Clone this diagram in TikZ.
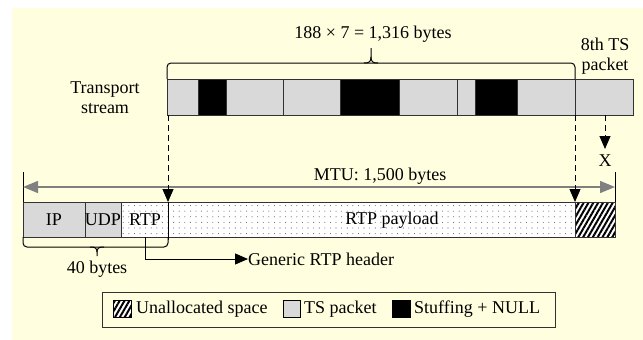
\documentclass[tikz,border=0pt]{standalone}
\usepackage{fontspec}
\setmainfont{Liberation Serif}
\usetikzlibrary{arrows.meta,patterns.meta}
\definecolor{paper}{RGB}{255,255,224}
\definecolor{tsgray}{RGB}{217,217,217}
\definecolor{edge}{RGB}{50,50,50}
\definecolor{mtugray}{RGB}{128,128,128}
\tikzset{
  seg/.style={draw=edge,line width=1pt},
  tsbox/.style={seg,fill=tsgray},
  nullbox/.style={seg,fill=black},
  dotbox/.style={pattern={Dots[distance=5.6pt,radius=0.55pt]},pattern color=black!60},
  hatchbox/.style={pattern={Lines[angle=60,distance=4.2pt,line width=2pt]},pattern color=black},
  lbl/.style={inner sep=0pt,font=\fontsize{18}{20}\selectfont},
  dasharrow/.style={dash pattern=on 6pt off 4pt,line width=1pt,-{Triangle[length=13pt,width=11pt]}},
  solidarrow/.style={line width=1pt,-{Triangle[length=13pt,width=11pt]}},
  mtuarrow/.style={draw=mtugray,line width=1.4pt,{Triangle[length=15pt,width=12pt]}-{Triangle[length=15pt,width=12pt]}},
  bracket/.style={line width=1pt,rounded corners=4pt}
}
\begin{document}
\begin{tikzpicture}[x=1pt,y=-1pt]
\useasboundingbox (0,0) rectangle (643,340);
\fill[paper] (12,8) rectangle (643,340);

% transport stream: seven packets plus the eighth one
\draw[tsbox]   (167,79) rectangle (198,115);
\draw[nullbox] (198,79) rectangle (226,115);
\draw[tsbox]   (226,79) rectangle (283,115);
\draw[tsbox]   (283,79) rectangle (340,115);
\draw[nullbox] (340,79) rectangle (399,115);
\draw[tsbox]   (399,79) rectangle (457,115);
\draw[tsbox]   (457,79) rectangle (475,115);
\draw[nullbox] (475,79) rectangle (517,115);
\draw[tsbox]   (517,79) rectangle (575,115);
\draw[tsbox]   (575,79) rectangle (633,115);
\node[lbl,align=center] (ts) at (105,98) {Transport\\stream};
\node[lbl,align=center] (eighth) at (605,56) {8th TS\\packet};

% bracket over the seven packets
\draw[bracket] (167,79) -- (167,63) -- (575,63) -- (575,79);
\draw[line width=1pt] (364,63) .. controls (369,63) and (371,62) .. (371,57) -- (371,48);
\draw[line width=1pt] (378,63) .. controls (373,63) and (371,62) .. (371,57);
\node[lbl] (sum) at (373,34) {188 × 7 = 1,316 bytes};

% IP packet of one MTU
\draw[seg,fill=tsgray] (23,202) rectangle (85,237);
\draw[seg,fill=tsgray] (85,202) rectangle (121,237);
\fill[white] (121,202) rectangle (575,237);
\fill[dotbox] (121,202) rectangle (575,237);
\fill[white] (575,202) rectangle (615,237);
\fill[hatchbox] (575,202) rectangle (615,237);
\draw[seg] (121,202) rectangle (615,237);
\draw[seg] (575,202) -- (575,237);
\node[lbl] (ip) at (54,220) {IP};
\node[lbl] (udp) at (103,220) {UDP};
\node[lbl] (rtp) at (145,220) {RTP};
\node[lbl] (payload) at (392,220) {RTP payload};

% MTU span
\draw[line width=1pt] (23,172) -- (23,202);
\draw[line width=1pt] (615,172) -- (615,202);
\coordinate (mtuL) at (23,187);
\coordinate (mtuR) at (615,187);
\draw[mtuarrow] (mtuL) -- (mtuR);
\node[lbl] (mtu) at (380,176) {MTU: 1,500 bytes};

% mapping of the stream onto the packet
\coordinate (tsStart) at (168,115);
\coordinate (payStart) at (168,202);
\coordinate (tsEnd) at (575,115);
\coordinate (payEnd) at (575,202);
\coordinate (extra) at (605,115);
\coordinate (dropped) at (605,149);
\draw[dasharrow] (tsStart) -- (payStart);
\draw[dasharrow] (tsEnd) -- (payEnd);
\draw[dasharrow] (extra) -- (dropped);
\node[lbl] (x) at (605,161) {X};
\draw[line width=1pt] (168,202) -- (168,240);

% 40-byte header bracket
\draw[bracket] (23,237) -- (23,247) -- (168,247) -- (168,237);
\draw[line width=1pt] (90,247) .. controls (95,247) and (97,248) .. (97,252) -- (97,256);
\draw[line width=1pt] (104,247) .. controls (99,247) and (97,248) .. (97,252);
\node[lbl] (forty) at (97,269) {40 bytes};

% generic RTP header pointer
\coordinate (rtpBase) at (145,237);
\node[lbl,anchor=west] (generic) at (248,259) {Generic RTP header};
\draw[solidarrow] (rtpBase) |- (generic.west);

% legend
\node[draw=edge,line width=1pt,minimum width=453pt,minimum height=35pt,inner sep=0pt] (legend) at (328.5,309.5) {};
\fill[white] (113,300) rectangle (131,317);
\fill[hatchbox] (113,300) rectangle (131,317);
\draw[line width=0.8pt] (113,300) rectangle (131,317);
\node[lbl,anchor=west] (unalloc) at (136,309) {Unallocated space};
\draw[line width=0.8pt,fill=tsgray] (283,300) rectangle (300,317);
\node[lbl,anchor=west] (tspkt) at (304,309) {TS packet};
\draw[line width=0.8pt,fill=black] (392,300) rectangle (410,317);
\node[lbl,anchor=west] (stuff) at (414,309) {Stuffing + NULL};
\end{tikzpicture}
\end{document}
